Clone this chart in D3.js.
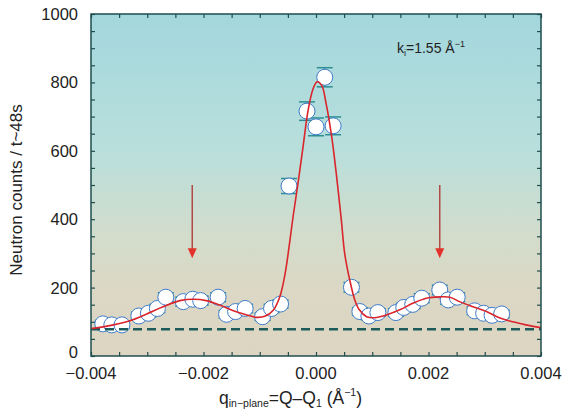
<!DOCTYPE html>
<html>
<head>
<meta charset="utf-8">
<script src="https://cdn.jsdelivr.net/npm/d3@7"></script>
<style>
  html, body { margin: 0; padding: 0; background: #fff; }
  svg { display: block; font-family: "Liberation Sans", Arial, sans-serif; }
  .tick-label { font-size: 16.5px; fill: #222; }
</style>
</head>
<body>
<div id="chart"></div>
<script>
// Measured points (q in 1/Å, neutron counts)
const qValues = [-0.00379, -0.00363, -0.00345, -0.00315, -0.00298, -0.00282, -0.00267, -0.00236,
  -0.00219, -0.00205, -0.00174, -0.00159, -0.00143, -0.00126, -0.00095, -0.00079, -0.00063,
  -0.00048, -0.00016, 0.0, 0.000155, 0.000304, 0.00063, 0.00078, 0.00094, 0.0011, 0.00142,
  0.00156, 0.00172, 0.00188, 0.0022, 0.00235, 0.00251, 0.00282, 0.00298, 0.00313, 0.0033];
const counts = [94, 91, 91, 117, 125, 139, 172, 159,
  166, 162, 172, 122, 130, 139, 115, 139, 152,
  497, 716, 670, 815, 673, 201, 130, 117, 127, 127,
  142, 151, 169, 193, 164, 172, 132, 125, 119, 123];
const errors = [10, 10, 10, 11, 11, 12, 13, 13,
  13, 13, 13, 11, 11, 12, 11, 12, 12,
  22, 27, 26, 28, 26, 14, 11, 11, 11, 11,
  12, 12, 13, 14, 13, 13, 11, 11, 11, 11];

// Fit curve
const fitQ = [-0.004, -0.0036, -0.00331, -0.00301, -0.00272, -0.00242, -0.00218, -0.00195,
  -0.00171, -0.00147, -0.00123, -0.00106, -0.00091, -0.00076, -0.00064, -0.00055, -0.00047,
  -0.00041, -0.00032, -0.00023, -0.00014, -0.00005, 0.00002, 0.0001, 0.00018, 0.00028,
  0.00036, 0.00045, 0.00051, 0.0006, 0.00069, 0.00077, 0.0009, 0.00104, 0.00125, 0.00149,
  0.00172, 0.00196, 0.0022, 0.00238, 0.00255, 0.00279, 0.00303, 0.00326, 0.0035, 0.00373, 0.004];
const fitCounts = [80, 91, 103, 123, 144, 162, 166, 162,
  149, 132, 120, 113, 116, 134, 175, 240, 330,
  405, 505, 612, 719, 782, 802, 792, 738, 640,
  534, 398, 300, 222, 164, 135, 115, 112, 120, 135,
  154, 169, 173, 172, 159, 144, 130, 112, 100, 91, 83];

const background = 78;
const arrowQ = [-0.0022, 0.0022];
const arrowFrom = 500, arrowTo = 286;

const xTickValues = [-0.004, -0.002, 0, 0.002, 0.004];
const xTickLabels = ['\u22120.004', '\u22120.002', '0.000', '0.002', '0.004'];
const yTickValues = [0, 200, 400, 600, 800, 1000];

const W = 565, H = 410;
const margin = { top: 14, right: 24, bottom: 54, left: 91 };
const width = W - margin.left - margin.right;
const height = H - margin.top - margin.bottom;

const svg = d3.select('#chart').append('svg')
  .attr('width', W).attr('height', H);

const defs = svg.append('defs');
const grad = defs.append('linearGradient')
  .attr('id', 'bg').attr('x1', 0).attr('y1', 0).attr('x2', 0).attr('y2', 1);
[[0, '#a3d7dd'], [0.4, '#b9dfdc'], [0.65, '#d3dccb'], [0.8, '#dbd8c5'], [1, '#ddd5c2']]
  .forEach(([o, c]) => grad.append('stop').attr('offset', o).attr('stop-color', c));
defs.append('clipPath').attr('id', 'clip').append('rect')
  .attr('width', width).attr('height', height);

const g = svg.append('g').attr('transform', `translate(${margin.left},${margin.top})`);

const x = d3.scaleLinear().domain([-0.004, 0.004]).range([0, width]);
const y = d3.scaleLinear().domain([0, 1000]).range([height, 0]);

g.append('rect').attr('width', width).attr('height', height).attr('fill', 'url(#bg)');

// Ticks (inside, all four sides)
const frame = '#1f4d4d';
const xMinor = d3.range(-8, 9).map(i => i * 0.0005);
const yMinor = d3.range(0, 21).map(i => i * 50);
const axB = g.append('g').attr('transform', `translate(0,${height})`)
  .call(d3.axisBottom(x).tickValues(xMinor).tickSize(-4).tickFormat(''));
const axT = g.append('g')
  .call(d3.axisTop(x).tickValues(xMinor).tickSize(-4).tickFormat(''));
const axL = g.append('g')
  .call(d3.axisLeft(y).tickValues(yMinor).tickSize(-4).tickFormat(''));
const axR = g.append('g').attr('transform', `translate(${width},0)`)
  .call(d3.axisRight(y).tickValues(yMinor).tickSize(-4).tickFormat(''));
[axB, axT, axL, axR].forEach(a => {
  a.select('.domain').remove();
  a.selectAll('line').attr('stroke', frame).attr('stroke-width', 1.2);
});

// Tick labels
g.selectAll('.xl').data(xTickValues).enter().append('text')
  .attr('class', 'tick-label')
  .attr('x', d => x(d)).attr('y', height + 23)
  .attr('text-anchor', 'middle')
  .text((d, i) => xTickLabels[i]);
g.selectAll('.yl').data(yTickValues).enter().append('text')
  .attr('class', 'tick-label')
  .attr('x', -13).attr('y', d => y(d) - (d === 0 ? 4 : 0)).attr('dy', '0.36em')
  .attr('text-anchor', 'end')
  .text(d => d);

const plot = g.append('g').attr('clip-path', 'url(#clip)');

// Error bars
const eb = plot.selectAll('.eb').data(qValues).enter().append('g');
eb.append('line')
  .attr('x1', d => x(d)).attr('x2', d => x(d))
  .attr('y1', (d, i) => y(counts[i] - errors[i])).attr('y2', (d, i) => y(counts[i] + errors[i]))
  .attr('stroke', '#2d8f93').attr('stroke-width', 1.2);
[-1, 1].forEach(s => {
  eb.append('line')
    .attr('x1', d => x(d) - 8).attr('x2', d => x(d) + 8)
    .attr('y1', (d, i) => y(counts[i] + s * errors[i])).attr('y2', (d, i) => y(counts[i] + s * errors[i]))
    .attr('stroke', '#2d8f93').attr('stroke-width', 1.5);
});

// Points
plot.selectAll('.pt').data(qValues).enter().append('circle')
  .attr('cx', d => x(d)).attr('cy', (d, i) => y(counts[i]))
  .attr('r', 8)
  .attr('fill', '#fff').attr('stroke', '#3f7cc9').attr('stroke-width', 1);

// Background level
plot.append('line')
  .attr('x1', 0).attr('x2', width)
  .attr('y1', y(background)).attr('y2', y(background))
  .attr('stroke', '#1d5a5c').attr('stroke-width', 2.5).attr('stroke-dasharray', '9,5');

// Fit curve
const line = d3.line()
  .x(d => x(d)).y((d, i) => y(fitCounts[i]))
  .curve(d3.curveCatmullRom);
plot.append('path').datum(fitQ)
  .attr('d', line).attr('fill', 'none')
  .attr('stroke', '#d9252b').attr('stroke-width', 1.6);

// Arrows
arrowQ.forEach(q => {
  const ax = x(q);
  g.append('line')
    .attr('x1', ax).attr('x2', ax)
    .attr('y1', y(arrowFrom)).attr('y2', y(arrowTo) - 8)
    .attr('stroke', '#b04a45').attr('stroke-width', 1.5);
  g.append('path')
    .attr('d', `M${ax - 4.5},${y(arrowTo) - 10} L${ax + 4.5},${y(arrowTo) - 10} L${ax},${y(arrowTo)} Z`)
    .attr('fill', '#e2322b');
});

// Frame
g.append('rect').attr('width', width).attr('height', height)
  .attr('fill', 'none').attr('stroke', frame).attr('stroke-width', 1.5);

// Annotation
const ann = g.append('text')
  .attr('x', 306).attr('y', 39)
  .attr('font-size', 14).attr('fill', '#222');
ann.append('tspan').text('k');
ann.append('tspan').attr('font-size', 9).attr('dy', 3).text('i');
ann.append('tspan').attr('dy', -3).text('=1.55 \u00c5');
ann.append('tspan').attr('font-size', 9).attr('dy', -6).text('\u22121');

// Axis titles
const xt = svg.append('text')
  .attr('x', 219).attr('y', 404)
  .attr('font-size', 17.5).attr('fill', '#222');
xt.append('tspan').text('q');
xt.append('tspan').attr('font-size', 10.5).attr('dy', 3).text('in\u2212plane');
xt.append('tspan').attr('dy', -3).text('=Q\u2013Q');
xt.append('tspan').attr('font-size', 10.5).attr('dy', 3).text('1');
xt.append('tspan').attr('dy', -3).text(' (\u00c5');
xt.append('tspan').attr('font-size', 10.5).attr('dy', -8).text('\u22121');
xt.append('tspan').attr('dy', 8).text(')');

svg.append('text')
  .attr('transform', `translate(22,${margin.top + height / 2 + 5}) rotate(-90)`)
  .attr('text-anchor', 'middle')
  .attr('font-size', 17).attr('fill', '#222')
  .text('Neutron counts / t~48s');
</script>
</body>
</html>
